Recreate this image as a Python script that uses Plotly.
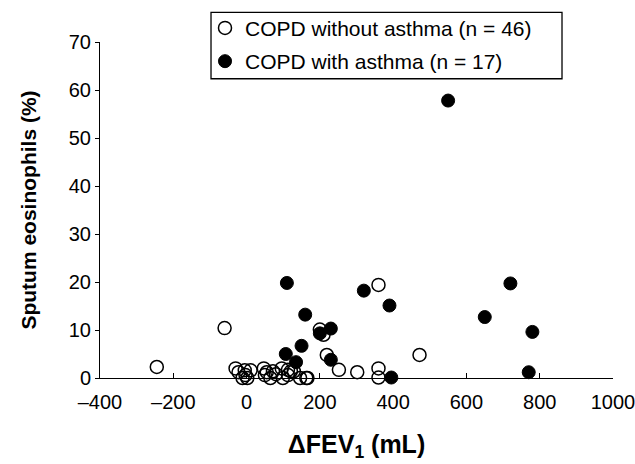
import plotly.graph_objects as go

# COPD without asthma (open circles)
open_x = [-245, -60, 360, 472, 200, 210, 219, 360, 302, 252, 360, 320, 276, 230, 197,
          163, 149, 121, 88, 65, 33, 2, -15, -28, -60, -92, -30, -5, 11, -22,
          47, 55, 72, 96, 113, 121, 129, 99, 166, 40, -11, -3, 50, 80, 113, 146]
open_y = [2.3, 10.4, 19.4, 4.8, 10.1, 9.0, 4.8, 2.0, 1.2, 1.7, 0.1, -0.2, -0.2, -0.2, -0.2,
          0.0, -0.2, -0.2, -0.1, 0.0, -0.2, 0.0, -0.2, -0.2, -0.2, -0.2, 2.0, 1.6, 1.6, 1.2,
          2.0, 1.2, 1.4, 2.0, 1.7, 1.4, 1.4, 0.0, 0.0, -0.1, 0.0, 0.6, 0.6, 0.8, 0.6, 0.0]

# COPD with asthma (filled circles)
fill_x = [550, 110, 320, 390, 160, 720, 650, 780, 770, 230, 200, 150, 107, 135, 230, 395, 420]
fill_y = [57.8, 19.8, 18.2, 15.1, 13.2, 19.7, 12.7, 9.6, 1.2, 10.3, 9.3, 6.7, 5.0, 3.3, 3.8, 0.1, -0.2]

x_ticks = [-400, -200, 0, 200, 400, 600, 800, 1000]
x_tick_labels = ["\u2013400", "\u2013200", "0", "200", "400", "600", "800", "1000"]
y_ticks = [0, 10, 20, 30, 40, 50, 60, 70]

FONT = "Liberation Sans, Arial, sans-serif"

fig = go.Figure()
fig.add_trace(go.Scatter(
    x=fill_x, y=fill_y, mode="markers", name="COPD with asthma (n = 17)",
    marker=dict(symbol="circle", size=13, color="black", line=dict(color="black", width=1)),
    cliponaxis=False, legendrank=2, legendgroup="b",
))
fig.add_trace(go.Scatter(
    x=open_x, y=open_y, mode="markers", name="COPD without asthma (n = 46)",
    marker=dict(symbol="circle-open", size=13, color="black", line=dict(width=1.5)),
    cliponaxis=False, legendrank=1, legendgroup="a",
))

# legend frame
fig.add_shape(type="rect", xref="paper", yref="paper",
              x0=0.2164, x1=0.9006, y0=0.8906, y1=1.0883,
              line=dict(color="black", width=1.3), fillcolor="rgba(0,0,0,0)", layer="above")

fig.update_layout(
    width=635, height=464,
    margin=dict(l=100, r=22, t=42, b=86, autoexpand=False),
    plot_bgcolor="white", paper_bgcolor="white",
    font=dict(family=FONT, size=20, color="black"),
    showlegend=True,
    legend=dict(
        x=0.2047, y=1.102, xanchor="left", yanchor="top",
        borderwidth=0, bgcolor="rgba(0,0,0,0)",
        font=dict(family=FONT, size=21, color="black"),
        traceorder="grouped", tracegroupgap=3,
        itemwidth=30,
    ),
    xaxis=dict(
        range=[-400, 1000], tickvals=x_ticks, ticktext=x_tick_labels,
        showgrid=False, zeroline=False, showline=True, linecolor="black", linewidth=1,
        ticks="inside", ticklen=5, tickcolor="black",
        automargin=False, ticklabelstandoff=6, ticklabeloverflow="allow",
        title=dict(text="<b>\u0394FEV<sub>1</sub> (mL)</b>", font=dict(size=25), standoff=23),
        tickfont=dict(size=20),
    ),
    yaxis=dict(
        range=[0, 70], tickvals=y_ticks,
        showgrid=False, zeroline=False, showline=True, linecolor="black", linewidth=1,
        ticks="outside", ticklen=4, tickcolor="black",
        automargin=False, ticklabeloverflow="allow",
        title=dict(text="<b>Sputum eosinophils (%)</b>", font=dict(size=21), standoff=26),
        tickfont=dict(size=20),
    ),
)

fig.write_html("out.html", config={"displayModeBar": False},
               post_script="document.body.style.margin='0';document.body.style.overflow='hidden';")
